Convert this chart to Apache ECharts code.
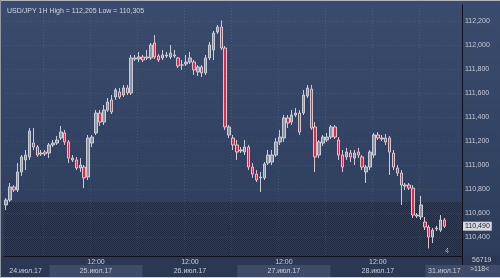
<!DOCTYPE html>
<html>
<head>
<meta charset="utf-8">
<script src="https://cdn.jsdelivr.net/npm/echarts@6/dist/echarts.min.js"></script>
<style>html,body{margin:0;padding:0;background:#33446a;}#c{width:500px;height:278px;}</style>
</head>
<body>
<div id="c"></div>
<script>
// ---- data (USD/JPY 1H) ----
const days = ['24.июл.17', '25.июл.17', '26.июл.17', '27.июл.17', '28.июл.17', '31.июл.17'];
const dayHours = [[13, 23], [0, 23], [0, 23], [0, 23], [0, 23], [0, 9]];
const yTicks = [110.4, 110.6, 110.8, 111.0, 111.2, 111.4, 111.6, 111.8, 112.0, 112.2];
const opens = [110.667,110.708,110.817,110.792,110.942,111.042,111.067,111.183,111.150,111.092,111.108,111.100,111.167,111.183,111.225,111.267,111.192,111.042,111.042,110.975,110.983,110.900,111.183,111.267,111.433,111.358,111.458,111.542,111.567,111.608,111.583,111.642,111.600,111.883,111.883,111.900,111.892,111.892,112.017,111.908,111.892,111.908,111.900,111.908,111.892,111.833,111.842,111.858,111.858,111.775,111.817,111.767,111.892,111.958,112.108,112.150,111.975,111.250,111.225,111.167,111.117,111.108,111.150,110.983,110.925,110.892,110.892,111.017,111.025,111.083,111.192,111.225,111.392,111.358,111.417,111.433,111.433,111.575,111.633,111.317,111.083,111.183,111.208,111.233,111.317,111.208,111.083,111.067,111.100,111.058,111.108,111.067,110.942,110.983,111.083,111.250,111.217,111.225,111.225,111.100,110.975,110.933,110.825,110.833,110.808,110.575,110.567,110.525,110.483,110.400,110.467,110.458,110.542];
const closes = [110.708,110.817,110.792,110.942,111.067,111.083,111.283,111.150,111.083,111.100,111.092,111.167,111.183,111.208,111.275,111.192,111.058,111.058,110.975,111.000,110.892,111.225,111.233,111.433,111.358,111.458,111.525,111.442,111.625,111.567,111.642,111.600,111.892,111.892,111.900,111.875,111.900,112.000,111.900,111.875,111.917,111.917,111.933,111.917,111.825,111.833,111.858,111.892,111.792,111.817,111.767,111.892,112.000,112.100,112.150,111.975,111.317,111.317,111.167,111.108,111.125,111.150,110.983,110.925,110.875,110.900,111.008,111.083,111.083,111.192,111.233,111.392,111.350,111.417,111.433,111.275,111.583,111.642,111.308,111.067,111.192,111.233,111.233,111.317,111.233,111.083,110.983,111.108,111.067,111.100,111.083,110.983,110.983,111.108,111.250,111.225,111.225,111.192,111.108,110.983,110.933,110.833,110.833,110.808,110.583,110.583,110.667,110.483,110.400,110.458,110.475,110.542,110.490];
const lows = [110.625,110.692,110.775,110.775,110.908,110.958,111.042,111.125,111.067,111.075,111.075,111.058,111.150,111.167,111.208,111.167,111.017,111.025,110.958,110.942,110.808,110.875,111.150,111.250,111.325,111.333,111.442,111.425,111.542,111.550,111.567,111.583,111.583,111.867,111.858,111.858,111.875,111.875,111.883,111.858,111.875,111.892,111.883,111.892,111.808,111.792,111.825,111.842,111.750,111.742,111.733,111.750,111.875,111.875,112.092,111.958,111.292,111.225,111.125,111.042,111.100,111.083,110.958,110.892,110.858,110.775,110.875,111.000,111.000,111.067,111.167,111.192,111.308,111.333,111.400,111.250,111.417,111.558,111.292,110.942,111.058,111.158,111.192,111.217,111.217,111.042,110.942,111.042,111.025,111.000,111.058,110.958,110.850,110.958,111.058,111.208,111.200,111.167,110.917,110.958,110.908,110.667,110.792,110.792,110.558,110.558,110.542,110.458,110.305,110.350,110.450,110.442,110.475];
const highs = [110.725,110.850,110.833,111.017,111.083,111.125,111.308,111.308,111.167,111.125,111.125,111.183,111.208,111.242,111.325,111.292,111.208,111.083,111.067,111.058,111.000,111.250,111.250,111.458,111.458,111.500,111.558,111.583,111.642,111.642,111.667,111.667,111.917,111.917,111.942,111.917,111.958,112.017,112.083,111.925,111.958,111.942,112.000,111.958,111.900,111.875,111.917,111.942,111.875,111.833,111.833,111.917,112.025,112.117,112.167,112.205,111.992,111.333,111.250,111.208,111.150,111.208,111.167,111.017,110.958,110.942,111.025,111.125,111.125,111.225,111.292,111.417,111.417,111.458,111.475,111.458,111.625,111.667,111.667,111.358,111.208,111.250,111.267,111.333,111.333,111.233,111.125,111.142,111.125,111.125,111.142,111.083,111.000,111.125,111.267,111.275,111.250,111.258,111.242,111.125,111.000,110.958,110.850,110.850,110.833,110.600,110.742,110.567,110.500,110.475,110.492,110.583,110.558];
const dottedFrom = 110.692;

// ---- build ----
const cats = [], hourOf = [], dateLabelIdx = {};
days.forEach((d, di) => {
  const start = cats.length, n = dayHours[di][1] - dayHours[di][0] + 1;
  for (let h = dayHours[di][0]; h <= dayHours[di][1]; h++) {
    cats.push(d + ' ' + String(h).padStart(2, '0') + ':00');
    hourOf.push(h);
  }
  dateLabelIdx[start + Math.floor(n / 2)] = di;
});
const candle = opens.map((o, i) => [o, closes[i], lows[i], highs[i]]);
const fmt = v => v.toFixed(3).replace('.', ',');

const cellW = 458 / cats.length;
const rich = {};
days.forEach((d, di) => {
  const n = dayHours[di][1] - dayHours[di][0] + 1;
  rich['d' + di] = {
    width: Math.round(n * cellW) - 1, height: 12, lineHeight: 12, align: 'center',
    backgroundColor: di % 2 === 1 ? '#3e4c69' : 'transparent',
    color: '#c8cdd8', fontSize: 7, fontFamily: 'Liberation Sans'
  };
});

const pc = document.createElement('canvas');
pc.width = 2; pc.height = 2;
const pctx = pc.getContext('2d');
pctx.fillStyle = 'rgba(12,18,32,0.45)';
pctx.fillRect(0, 0, 1, 1);
pctx.fillRect(1, 1, 1, 1);

const chart = echarts.init(document.getElementById('c'), null, { renderer: 'canvas' });
chart.setOption({
  animation: false,
  backgroundColor: {
    type: 'linear', x: 0, y: 0, x2: 0, y2: 1,
    colorStops: [{ offset: 0, color: '#3a4b6d' }, { offset: 1, color: '#2c3b59' }]
  },
  title: {
    text: 'USD/JPY 1H High = 112,205 Low = 110,305',
    left: 2, top: 3,
    textStyle: { color: '#d0d5de', fontSize: 7, fontWeight: 'normal', fontFamily: 'Liberation Sans' }
  },
  grid: { left: 4, right: 38, top: 5, bottom: 22 },
  xAxis: [{
    type: 'category', data: cats, boundaryGap: true,
    axisLine: { show: true, lineStyle: { color: '#0e1118', width: 1 } },
    axisTick: { show: false },
    axisLabel: {
      interval: i => hourOf[i] === 12,
      formatter: v => v.split(' ')[1],
      color: '#c8cdd8', fontSize: 7, margin: 3, fontFamily: 'Liberation Sans'
    },
    splitLine: {
      show: true, interval: i => hourOf[i] === 11 || hourOf[i] === 23,
      lineStyle: { color: 'rgba(200,210,230,0.13)', type: [1, 2] }
    }
  }, {
    type: 'category', data: cats, boundaryGap: true, position: 'bottom',
    axisLine: { show: false }, axisTick: { show: false },
    axisLabel: {
      interval: i => dateLabelIdx[i] !== undefined,
      formatter: (v, i) => '{d' + dateLabelIdx[i] + '|' + v.split(' ')[0] + '}',
      rich: rich, margin: 9
    }
  }],
  yAxis: {
    type: 'value', position: 'right', scale: true,
    min: 110.2417, max: 112.3333,
    axisLine: { show: true, lineStyle: { color: '#0e1118', width: 1 } },
    axisTick: { show: false, customValues: yTicks },
    axisLabel: {
      customValues: yTicks, formatter: fmt,
      color: '#c4cad6', fontSize: 7, margin: 3, fontFamily: 'Liberation Sans'
    },
    splitLine: { show: false }
  },
  series: [{
    type: 'candlestick', data: candle, barWidth: 3,
    itemStyle: {
      color: '#8c93a1', color0: '#e4284c',
      borderColor: '#c9cdd5', borderColor0: '#dcc4cc', borderWidth: 1
    },
    markArea: {
      silent: true,
      itemStyle: { color: { image: pc, repeat: 'repeat' } },
      data: [[{ yAxis: dottedFrom }, { yAxis: 110.2417 }]]
    },
    z: 3
  }, {
    type: 'line', data: [], silent: true,
    markLine: {
      symbol: 'none', silent: true, label: { show: false },
      lineStyle: { color: 'rgba(200,210,230,0.13)', type: [1, 2], width: 1 },
      data: yTicks.map(v => ({ yAxis: v }))
    }
  }, {
    type: 'line', data: [], silent: true, z: 5,
    markLine: {
      symbol: 'none', silent: true,
      data: [{ yAxis: closes[closes.length - 1] }],
      lineStyle: { color: 'rgba(0,0,0,0)', width: 0 },
      label: {
        show: true, position: 'end', distance: 1, formatter: p => fmt(p.value),
        backgroundColor: '#d3d7df', color: '#1c2230', fontSize: 7, padding: [1, 2],
        fontFamily: 'Liberation Sans'
      }
    }
  }],
  graphic: [
    { type: 'rect', shape: { x: 0, y: 256, width: 500, height: 22 }, style: { fill: '#2b3853' }, z: -1, silent: true },
    { type: 'rect', shape: { x: 462, y: 265, width: 38, height: 12 }, style: { fill: '#3e4c69' }, z: -1, silent: true },
    { type: 'line', shape: { x1: 462.5, y1: 256, x2: 462.5, y2: 278 }, style: { stroke: '#0e1118', lineWidth: 1 }, silent: true },
    { type: 'rect', shape: { x: 0, y: 277, width: 500, height: 1 }, style: { fill: '#c9ccd3' }, silent: true },
    { type: 'rect', shape: { x: 0, y: 0, width: 500, height: 1 }, style: { fill: '#aeb3bd' }, silent: true },
    { type: 'rect', shape: { x: 0, y: 0, width: 1, height: 278 }, style: { fill: '#8f96a4' }, silent: true },
    { type: 'text', left: 445, top: 248, style: { text: '4', fill: '#d0d5de', font: '7px Liberation Sans' }, silent: true },
    { type: 'text', left: 472, top: 257, style: { text: '56719', fill: '#c8cdd8', font: '7px Liberation Sans' }, silent: true },
    { type: 'text', left: 470, top: 266, style: { text: '>118<', fill: '#c8cdd8', font: '7px Liberation Sans' }, silent: true }
  ]
});
</script>
</body>
</html>
